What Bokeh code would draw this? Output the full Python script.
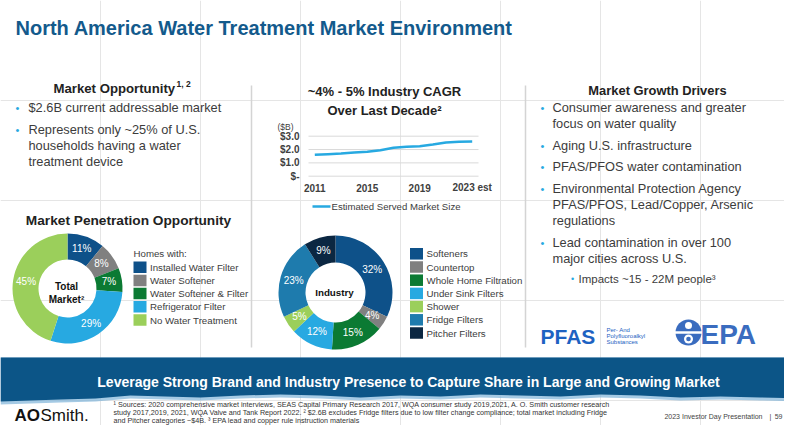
import numpy as np
from bokeh.plotting import figure
from bokeh.models import Range1d, ColumnDataSource
from bokeh.core.properties import value
from bokeh.embed import file_html
from bokeh.resources import INLINE

# ---------------- data ----------------
years = [2011, 2012, 2013, 2014, 2015, 2016, 2017, 2018, 2019, 2020, 2021, 2022, 2023]
market_size_b = [1.60, 1.65, 1.70, 1.77, 1.83, 1.95, 2.13, 2.20, 2.25, 2.38, 2.53, 2.58, 2.60]
y_tick_values = [3, 2, 1, 0]
y_tick_labels = ["$3.0", "$2.0", "$1.0", "$-"]
x_tick_values = [2011, 2015, 2019, 2023]
x_tick_labels = ["2011", "2015", "2019", "2023 est"]
line_series_name = "Estimated Served Market Size"

pen_labels = ["Installed Water Filter", "Water Softener", "Water Softener & Filter",
              "Refrigerator Filter", "No Water Treatment"]
pen_shares = [11, 8, 7, 29, 45]
pen_colors = ["#0e5189", "#808080", "#0b7a33", "#27a9e1", "#9bcf5b"]

ind_labels = ["Softeners", "Countertop", "Whole Home Filtration", "Under Sink Filters",
              "Shower", "Fridge Filters", "Pitcher Filters"]
ind_shares = [32, 4, 15, 12, 5, 23, 9]
ind_colors = ["#0e5189", "#808080", "#0b7a33", "#27a9e1", "#9bcf5b", "#1e7bad", "#0b2742"]

# ---------------- canvas ----------------
FONT = "Liberation Sans"
TITLE_BLUE = "#135a8c"
BANNER = "#0c5587"
DARK = "#222222"
BODY = "#3c3c3c"
BULLET = "#27a9e1"

FW, FH = 784, 425
p = figure(width=FW, height=FH, x_range=Range1d(0, FW), y_range=Range1d(FH, 0),
           output_backend="svg", toolbar_location=None, min_border=0,
           x_axis_location=None, y_axis_location=None)
p.outline_line_color = None
p.background_fill_color = "white"
p.border_fill_color = "white"


def T(x, y, s, size, color=BODY, bold=False, align="left", baseline="middle", font=FONT):
    p.text(x=[x], y=[y], text=[s], text_font=value(font), text_font_size=f"{size}px",
           text_color=color, text_font_style="bold" if bold else "normal",
           text_align=align, text_baseline=baseline)


# title
T(15, 27, "North America Water Treatment Market Environment", 20, TITLE_BLUE, bold=True)

# dividers
p.segment(x0=[251, 525], x1=[251, 525], y0=[85, 85], y1=[347, 347],
          line_color="#d4d4d4", line_width=1.5)

# ---------------- left column ----------------
T(53, 88, "Market Opportunity", 13.2, DARK, bold=True)
T(176, 83, "1, 2", 8.5, DARK, bold=True)
left_lines = [(107, "$2.6B current addressable market", True),
              (129, "Represents only ~25% of U.S.", True),
              (145, "households having a water", False),
              (161, "treatment device", False)]
for yy, s, b in left_lines:
    if b:
        T(17, yy, "•", 11, BULLET, align="center")
    T(28, yy, s, 12.8, BODY)

T(128, 220, "Market Penetration Opportunity", 13.7, DARK, bold=True, align="center")


def donut(cx, cy, r_in, r_out, shares, colors, label_r):
    frac = np.array(shares, dtype=float) / float(sum(shares))
    edges = np.concatenate([[0.0], np.cumsum(frac)])
    start = np.pi / 2 - 2 * np.pi * edges[:-1]
    end = np.pi / 2 - 2 * np.pi * edges[1:]
    src = ColumnDataSource(dict(start=start, end=end, color=colors))
    p.annular_wedge(x=cx, y=cy, inner_radius=r_in, outer_radius=r_out,
                    inner_radius_units="screen", outer_radius_units="screen",
                    start_angle="start", end_angle="end", direction="clock",
                    fill_color="color", line_color=None, source=src)
    mid = (start + end) / 2
    lx = cx + label_r * np.cos(mid)
    ly = cy - label_r * np.sin(mid)
    p.text(x=lx, y=ly, text=[f"{v}%" for v in shares], text_font=value(FONT),
           text_font_size="10px", text_color="white", text_align="center",
           text_baseline="middle")


def legend(x, y0, step, labels, colors, size=9.7):
    ys = [y0 + i * step for i in range(len(labels))]
    p.rect(x=x, y=ys, width=13, height=11.5, width_units="screen", height_units="screen",
           fill_color=colors, line_color=None)
    p.text(x=x + 10, y=ys, text=labels, text_font=value(FONT), text_font_size=f"{size}px",
           text_color=BODY, text_align="left", text_baseline="middle")


donut(67, 288, 29, 55, pen_shares, pen_colors, 42)
T(66, 286, "Total", 10, "#111111", bold=True, align="center")
T(66, 299, "Market²", 10, "#111111", bold=True, align="center")
T(133, 253, "Homes with:", 9.7, BODY)
legend(139.5, 266.7, 13.2, pen_labels, pen_colors)

# ---------------- middle column ----------------
T(384, 91, "~4% - 5% Industry CAGR", 13, DARK, bold=True, align="center")
T(384, 110, "Over Last Decade²", 13, DARK, bold=True, align="center")

px_per_year = (471.7 - 314.3) / 12.0
lx0 = 2011 - 314.3 / px_per_year
p.extra_x_ranges = {"lx": Range1d(lx0, lx0 + FW / px_per_year)}
px_per_b = (175.7 - 135.7) / 3.0
p.extra_y_ranges = {"ly": Range1d(-(FH - 175.7) / px_per_b, 175.7 / px_per_b)}

T(277, 126, "($B)", 8.5, BODY)
p.segment(x0=308, x1=478, y0=y_tick_values, y1=y_tick_values, y_range_name="ly",
          line_color="#d9d9d9", line_width=1)
p.text(x=299, y=y_tick_values, text=y_tick_labels, y_range_name="ly",
       text_font=value(FONT), text_font_size="10px", text_font_style="bold",
       text_color="#404040", text_align="right", text_baseline="middle")
p.text(x=x_tick_values, y=187, text=x_tick_labels, x_range_name="lx",
       text_font=value(FONT), text_font_size="10px", text_font_style="bold",
       text_color="#404040", text_align="center", text_baseline="middle")
p.line(years, market_size_b, x_range_name="lx", y_range_name="ly",
       line_color=BULLET, line_width=2.5)
p.line(x=[312, 330], y=[206, 206], line_color=BULLET, line_width=2.5)
T(331, 206, line_series_name, 9.6, BODY)

donut(335, 292, 30, 57, ind_shares, ind_colors, 43.5)
T(334, 292, "Industry", 9.8, "#111111", bold=True, align="center")
legend(416, 253.3, 13.2, ind_labels, ind_colors)

# ---------------- right column ----------------
T(657, 90, "Market Growth Drivers", 12.9, DARK, bold=True, align="center")
right_lines = [(107, "Consumer awareness and greater", True),
               (123, "focus on water quality", False),
               (145, "Aging U.S. infrastructure", True),
               (166, "PFAS/PFOS water contamination", True),
               (188, "Environmental Protection Agency", True),
               (204, "PFAS/PFOS, Lead/Copper, Arsenic", False),
               (220, "regulations", False),
               (242, "Lead contamination in over 100", True),
               (258, "major cities across U.S.", False)]
for yy, s, b in right_lines:
    if b:
        T(542, yy, "•", 11, BULLET, align="center")
    T(552, yy, s, 12.8, BODY)
T(572, 278, "•", 9, BULLET, align="center")
T(578, 278, "Impacts ~15 - 22M people³", 11.5, BODY)

# PFAS logo
PFAS_BLUE = "#1d62c2"
T(540, 336, "PFAS", 21, PFAS_BLUE, bold=True)
T(606, 329, "Per- And", 6, PFAS_BLUE)
T(606, 335, "Polyfluoroalkyl", 6, PFAS_BLUE)
T(606, 341, "Substances", 6, PFAS_BLUE)

# EPA logo
EPA_BLUE = "#3a6cbf"
p.circle(x=[688], y=[332], radius=13, radius_units="screen", fill_color=EPA_BLUE, line_color=None)
p.rect(x=[688], y=[332], width=28, height=2.5, width_units="screen", height_units="screen",
       fill_color="white", line_color=None)
p.circle(x=[688], y=[338.5], radius=4.5, radius_units="screen", fill_color="white", line_color=None)
p.circle(x=[688], y=[338.5], radius=2.3, radius_units="screen", fill_color=EPA_BLUE, line_color=None)
p.circle(x=[688], y=[325], radius=3.5, radius_units="screen", fill_color="white", line_color=None)
T(700, 334, "EPA", 28, EPA_BLUE, bold=True)

# ---------------- banner ----------------
edge_x = [0, 30, 60, 95, 130, 165, 200, 240, 280, 320, 360, 400, 440, 480, 520,
          560, 600, 640, 680, 720, 760, 800]
edge_y = [401, 400, 399, 398, 395, 396, 397, 395, 394, 395, 397, 395, 396, 394,
          395, 396, 394, 395, 397, 396, 397, 398]
p.patch(x=[0] + edge_x + [800], y=[357] + [v + 3 for v in edge_y] + [357],
        fill_color="#7fb3d8", line_color=None, fill_alpha=0.7)
p.patch(x=[0] + edge_x + [800], y=[357] + edge_y + [357], fill_color=BANNER, line_color=None)
T(408, 381, "Leverage Strong Brand and Industry Presence to Capture Share in Large and Growing Market",
  14, "white", bold=True, align="center")

# ---------------- footer ----------------
T(14, 415, "AO", 17, "#111111", bold=True)
T(40, 415, "Smith.", 17, "#111111")
foot = ["¹ Sources: 2020 comprehensive market interviews, SEAS Capital Primary Research 2017, WQA consumer study 2019,2021, A. O. Smith customer research",
        "study 2017,2019, 2021, WQA Valve and Tank Report 2022. ² $2.6B excludes Fridge filters due to low filter change compliance; total market including Fridge",
        "and Pitcher categories ~$4B.  ³ EPA lead and copper rule instruction materials"]
for i, s in enumerate(foot):
    T(113, 404 + i * 8, s, 7.2, "#333333")
T(762, 416, "2023 Investor Day Presentation", 7, "#444444", align="right")
T(770, 416, "|", 7, "#444444", align="center")
T(782, 416, "59", 7, "#444444", align="right")

open("out.html", "w").write(file_html(p, INLINE))
